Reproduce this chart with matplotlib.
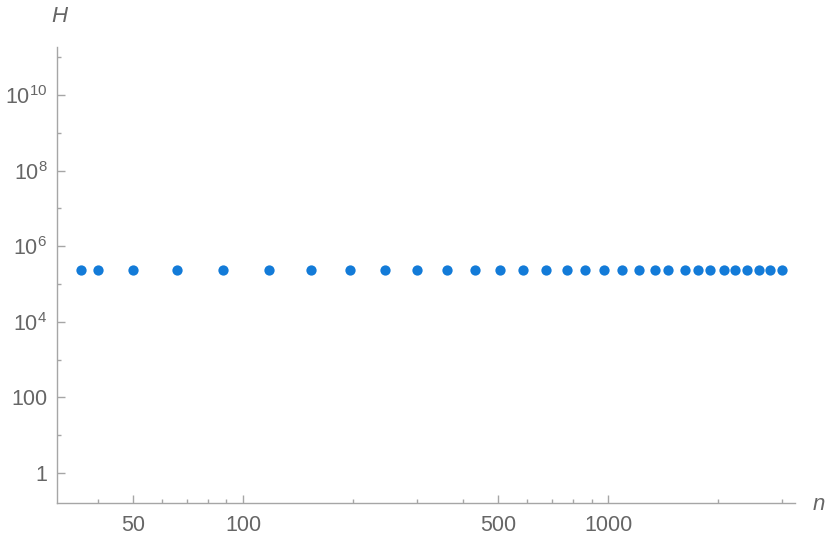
import matplotlib
matplotlib.use("Agg")
import matplotlib.pyplot as plt
from matplotlib.ticker import FixedLocator, FuncFormatter, NullFormatter
import math

n_values = [36, 40, 50, 66, 88, 118, 153, 196, 245, 299, 361, 431, 505, 585, 675,
            770, 865, 971, 1092, 1211, 1343, 1460, 1620, 1765, 1900, 2071, 2228,
            2399, 2583, 2773, 2986]
H_values = [2.3e5] * len(n_values)

x_major = [50, 100, 500, 1000]
x_minor = [40, 60, 70, 80, 90, 200, 300, 400, 600, 700, 800, 900, 2000, 3000]
y_major = [1e0, 1e2, 1e4, 1e6, 1e8, 1e10]
y_minor = [1e1, 1e3, 1e5, 1e7, 1e9, 1e11]

plt.rcParams['font.family'] = ['Liberation Sans', 'DejaVu Sans']
plt.rcParams['mathtext.fontset'] = 'custom'
plt.rcParams['mathtext.rm'] = 'Liberation Sans'
plt.rcParams['mathtext.it'] = 'Liberation Sans:italic'

W, Hh = 830, 545
fig = plt.figure(figsize=(W / 100, Hh / 100), dpi=100)
left, right, top, bottom = 57, 795, 46.7, 502.7
ax = fig.add_axes([left / W, 1 - bottom / Hh, (right - left) / W, (bottom - top) / Hh])

dot_color = '#137bd8'
ax.plot(n_values, H_values, 'o', color=dot_color, markersize=7.4, markeredgewidth=0)

ax.set_xscale('log')
ax.set_yscale('log')
ax.set_xlim(30.9, 3247)
ax.set_ylim(10 ** -0.786, 10 ** 11.278)

axis_col = '#a6a6a6'
text_col = '#666666'
for s in ['top', 'right']:
    ax.spines[s].set_visible(False)
for s in ['left', 'bottom']:
    ax.spines[s].set_color(axis_col)
    ax.spines[s].set_linewidth(1.0)

ax.xaxis.set_major_locator(FixedLocator(x_major))
ax.xaxis.set_minor_locator(FixedLocator(x_minor))
ax.xaxis.set_major_formatter(FuncFormatter(lambda v, p: f"{int(round(v))}"))
ax.xaxis.set_minor_formatter(NullFormatter())

def yfmt(v, p):
    e = int(round(math.log10(v)))
    if e == 0:
        return "1"
    if e == 2:
        return "100"
    return r"$\mathregular{10^{%d}}$" % e

ax.yaxis.set_major_locator(FixedLocator(y_major))
ax.yaxis.set_minor_locator(FixedLocator(y_minor))
ax.yaxis.set_major_formatter(FuncFormatter(yfmt))
ax.yaxis.set_minor_formatter(NullFormatter())

ax.tick_params(which='both', direction='in', color=axis_col, width=1.0,
               labelcolor=text_col, labelsize=15.5)
ax.tick_params(which='major', length=5.5)
ax.tick_params(which='minor', length=3)
ax.tick_params(axis='x', which='major', pad=9)
ax.tick_params(axis='y', which='major', pad=7)

fig.text(59 / W, 1 - 17 / Hh, 'H', fontsize=16, style='italic', color=text_col,
         ha='center', va='center')
fig.text(819 / W, 1 - 505 / Hh, 'n', fontsize=16, style='italic', color=text_col,
         ha='center', va='center')

fig.savefig('out.png', dpi=100)
